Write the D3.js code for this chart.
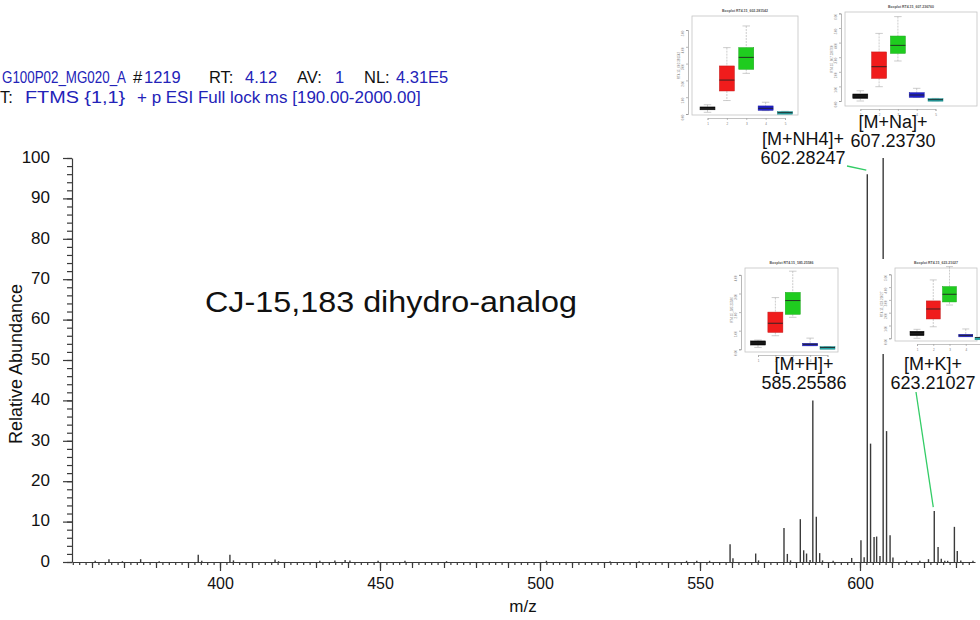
<!DOCTYPE html>
<html>
<head>
<meta charset="utf-8">
<script src="https://cdn.jsdelivr.net/npm/d3@7"></script>
<style>
body{margin:0;background:#fff}
svg{display:block}
text{font-family:"Liberation Sans",Arial,sans-serif}
</style>
</head>
<body>
<div id="chart"></div>
<script>
//Spectrum peaks (m/z and relative abundance %)
const peakMz = [361.0,365.3,369.5,375.2,381.0,393.2,394.3,403.1,404.2,417.2,418.3,431.2,435.9,439.1,440.6,449.4,457.8,470.8,
  502.0,521.9,531.0,545.8,549.0,553.0,559.4,560.3,567.4,568.3,576.25,577.3,578.3,581.35,582.4,583.3,584.4,
  585.26,586.35,587.4,588.3,591.6,597.4,600.3,601.3,602.28,603.3,604.4,605.2,606.25,607.24,608.3,609.4,610.3,
  614.6,618.7,621.4,623.21,624.4,625.4,626.5,627.4,629.5,630.4,631.5,635.3];
const peakAbund = [0.3,0.7,0.2,0.7,0.2,1.8,0.3,1.8,0.4,0.6,0.2,0.3,0.4,0.5,0.4,0.3,0.3,0.2,
  0.3,0.2,0.2,0.3,0.3,0.3,4.4,0.9,2.1,0.4,8.4,2.0,0.4,10.6,2.9,2.1,0.5,
  40,11.2,2.2,0.4,0.3,1.0,5.4,1.2,96,29.3,6.2,6.3,1.5,100,32.4,6.6,1.1,
  0.3,0.3,0.7,12.6,3.7,0.8,0.3,0.3,8.7,2.7,0.4,0.3];

//Axis ticks
const xLabelTicks = [400,450,500,550,600];
const yLabelTicks = [0,10,20,30,40,50,60,70,80,90,100];

//Annotated ions
const ionNames = ["[M+H]+","[M+NH4]+","[M+Na]+","[M+K]+"];
const ionMz = [585.25586,602.28247,607.23730,623.21027];
const ionAbund = [40,96,100,12.6];

//Inset boxplots: [low whisker, q1, median, q3, high whisker] per group 1..5
const boxH = [[0.1,0.23,0.34,0.45,0.5],[0.73,0.91,1.4,2.0,2.78],[1.72,1.88,2.62,3.06,4.2],[0.2,0.2,0.27,0.32,0.6],[0.05,0.05,0.1,0.14,0.14]];
const boxNH4 = [[0.1,0.25,0.33,0.42,0.55],[0.8,1.37,2.02,2.86,3.95],[2.42,2.66,3.37,3.95,5.24],[0.2,0.22,0.34,0.48,0.7],[0.02,0.04,0.08,0.14,0.16]];
const boxNa = [[0,0.18,0.34,0.48,0.7],[0.98,1.55,2.35,3.36,4.63],[2.74,3.26,3.81,4.45,5.78],[0.25,0.25,0.41,0.57,0.87],[0.02,0.04,0.09,0.16,0.18]];
const boxK = [[0,0.21,0.36,0.55,0.7],[0.9,1.51,2.29,2.92,4.56],[2.6,2.84,3.44,4.04,5.6],[0.16,0.16,0.23,0.31,0.73],[0.02,0.04,0.06,0.08,0.1]];
const insetTitles = ["Boxplot RT4.15_585.25586","Boxplot RT4.15_602.281542","Boxplot RT4.15_607.236760","Boxplot RT4.15_623.21027"];

const width = 980, height = 620;
const ink = "#3a3a3a";
const blue = "#2323b8";

const svg = d3.select("#chart").append("svg")
  .attr("width", width)
  .attr("height", height);

//Scales
const x = d3.scaleLinear().domain([353.75, 635.94]).range([72, 975]);
const y = d3.scaleLinear().domain([0, 100]).range([562, 158]);

//x axis: labels every 50, mid ticks every 10, small ticks every 2
svg.append("g")
  .attr("transform", "translate(0," + y(0) + ")")
  .call(d3.axisBottom(x).tickValues(d3.range(354, 636, 2)).tickSize(3).tickSizeOuter(0).tickFormat(""))
  .call(g => g.select(".domain").remove());
svg.append("g")
  .attr("transform", "translate(0," + y(0) + ")")
  .call(d3.axisBottom(x).tickValues(d3.range(360, 636, 10)).tickSize(6).tickFormat(""))
  .call(g => g.select(".domain").remove());
const xAxis = svg.append("g")
  .attr("transform", "translate(0," + y(0) + ")")
  .call(d3.axisBottom(x).tickValues(xLabelTicks).tickSize(9).tickSizeOuter(0).tickFormat(d3.format("d")));
xAxis.selectAll("text").attr("font-size", 16).attr("fill", "#111").attr("dy", "0.95em");

//y axis
svg.append("g")
  .attr("transform", "translate(" + x.range()[0] + ",0)")
  .call(d3.axisLeft(y).tickValues(d3.range(0, 101, 2)).tickSize(5).tickFormat(""))
  .call(g => g.select(".domain").remove());
const yAxis = svg.append("g")
  .attr("transform", "translate(" + x.range()[0] + ",0)")
  .call(d3.axisLeft(y).tickValues(yLabelTicks).tickSize(9).tickSizeOuter(0).tickPadding(13));
yAxis.selectAll("text").attr("font-size", 17).attr("fill", "#111").attr("dy", "0.25em");

svg.selectAll(".domain, .tick line").attr("stroke", ink).attr("stroke-width", 1.2);

//Axis titles
svg.append("text")
  .attr("transform", "translate(22,364) rotate(-90)")
  .attr("text-anchor", "middle")
  .attr("font-size", 18)
  .attr("fill", "#111")
  .text("Relative Abundance");

svg.append("text")
  .attr("x", 523).attr("y", 612)
  .attr("text-anchor", "middle")
  .attr("font-size", 17)
  .attr("fill", "#111")
  .text("m/z");

//Peaks
svg.selectAll("line.peak")
  .data(peakMz.map((m, i) => ({mz: m, v: peakAbund[i]})))
  .enter()
  .append("line")
  .attr("class", "peak")
  .attr("x1", d => x(d.mz)).attr("x2", d => x(d.mz))
  .attr("y1", y(0)).attr("y2", d => y(d.v))
  .attr("stroke", ink)
  .attr("stroke-width", 1.4);

//Header (scan info); sx squeezes a part horizontally
const header = [
  {t: "G100P02_MG020_A", x: 2, y: 83, sx: 0.81, c: blue},
  {t: "#", x: 133, y: 83, c: "#111"},
  {t: "1219", x: 144, y: 83, c: blue},
  {t: "RT:", x: 209, y: 83, c: "#111"},
  {t: "4.12", x: 245, y: 83, c: blue},
  {t: "AV:", x: 297, y: 83, c: "#111"},
  {t: "1", x: 335, y: 83, c: blue},
  {t: "NL:", x: 364, y: 83, c: "#111"},
  {t: "4.31E5", x: 396, y: 83, c: blue},
  {t: "T:", x: 0, y: 103, c: "#111"},
  {t: "FTMS {1,1}", x: 25, y: 103, sx: 1.2, c: blue},
  {t: "+ p ESI Full lock ms [190.00-2000.00]", x: 137, y: 103, sx: 1.03, c: blue}
];
svg.selectAll("text.header")
  .data(header)
  .enter()
  .append("text")
  .attr("class", "header")
  .attr("transform", d => "translate(" + d.x + "," + d.y + ") scale(" + (d.sx || 1) + ",1)")
  .attr("font-size", 16.5)
  .attr("fill", d => d.c)
  .text(d => d.t);

//Compound name
svg.append("text")
  .attr("x", 205).attr("y", 312)
  .attr("font-family", "'Open Sans', sans-serif")
  .attr("font-size", 29)
  .attr("fill", "#111")
  .attr("textLength", 372)
  .attr("lengthAdjust", "spacingAndGlyphs")
  .text("CJ-15,183 dihydro-analog");

//Inset boxplots
const boxColors = ["#0d0d0d", "#f01c1c", "#1fcc1f", "#2020cc", "#22a8a8"];
const insets = [
  {stats: boxH,   title: insetTitles[0], fx: [745, 838], fy: [268, 352], bx: [758, 827.5], by: [349.3, 274.9], top: 4, bw: 15},
  {stats: boxNH4, title: insetTitles[1], fx: [692, 798], fy: [16, 115],  bx: [707.5, 785], by: [114, 30],     top: 5, bw: 15},
  {stats: boxNa,  title: insetTitles[2], fx: [845, 977], fy: [12, 106],  bx: [860.3, 935.5], by: [101, 13.4], top: 6, bw: 15},
  {stats: boxK,   title: insetTitles[3], fx: [895, 977], fy: [268, 341], bx: [917, 982], by: [338.3, 274.3],   top: 5, bw: 14}
];

insets.forEach(ins => {
  const g = svg.append("g");
  const bx = d3.scaleLinear().domain([1, 5]).range(ins.bx);
  const by = d3.scaleLinear().domain([0, ins.top]).range(ins.by);
  const fw = ins.fx[1] - ins.fx[0], fh = ins.fy[1] - ins.fy[0];

  g.append("rect")
    .attr("x", ins.fx[0] - 14).attr("y", ins.fy[0] - 9)
    .attr("width", fw + 14).attr("height", fh + 22)
    .attr("fill", "#fff");
  g.append("rect")
    .attr("x", ins.fx[0]).attr("y", ins.fy[0])
    .attr("width", fw).attr("height", fh)
    .attr("fill", "none").attr("stroke", "#c4c4c4").attr("stroke-width", 0.8);

  g.append("text")
    .attr("x", ins.fx[0] + fw / 2).attr("y", ins.fy[0] - 4)
    .attr("text-anchor", "middle").attr("font-size", 3.5).attr("font-weight", "bold")
    .attr("fill", "#555").text(ins.title);

  //small axes
  const ax = ins.fx[0] - 4;
  g.append("g")
    .attr("transform", "translate(" + ax + ",0)")
    .call(d3.axisLeft(by).ticks(ins.top).tickSize(2).tickFormat(d => d.toFixed(2)))
    .call(a => a.selectAll("path, line").attr("stroke", "#888").attr("stroke-width", 0.6))
    .call(a => a.selectAll("text").attr("font-size", 3).attr("fill", "#777")
      .attr("transform", function() { return "rotate(-90," + this.getAttribute("x") + ",0)"; }));
  g.append("text")
    .attr("transform", "translate(" + (ax - 8) + "," + (ins.fy[0] + fh / 2) + ") rotate(-90)")
    .attr("text-anchor", "middle").attr("font-size", 3).attr("fill", "#777")
    .text("RT4.15_" + ins.title.split("_")[1]);
  const groups = d3.range(1, 6).filter(v => bx(v) < width - 4);
  g.append("g")
    .attr("transform", "translate(0," + (ins.fy[1] + 3) + ")")
    .call(d3.axisBottom(bx).tickValues(groups).tickSize(2).tickFormat(d3.format("d")))
    .call(a => a.selectAll("path, line").attr("stroke", "#999").attr("stroke-width", 0.6))
    .call(a => a.selectAll("text").attr("font-size", 3).attr("fill", "#777"));

  ins.stats.forEach((s, i) => {
    const cx = bx(i + 1), h = ins.bw / 2;
    g.append("line")
      .attr("x1", cx).attr("x2", cx).attr("y1", by(s[4])).attr("y2", by(s[3]))
      .attr("stroke", "#aaa").attr("stroke-width", 0.6).attr("stroke-dasharray", "2,1");
    g.append("line")
      .attr("x1", cx).attr("x2", cx).attr("y1", by(s[1])).attr("y2", by(s[0]))
      .attr("stroke", "#aaa").attr("stroke-width", 0.6).attr("stroke-dasharray", "2,1");
    [s[0], s[4]].forEach(v => g.append("line")
      .attr("x1", cx - h / 2).attr("x2", cx + h / 2).attr("y1", by(v)).attr("y2", by(v))
      .attr("stroke", "#aaa").attr("stroke-width", 0.6));
    g.append("rect")
      .attr("x", cx - h).attr("width", ins.bw)
      .attr("y", by(s[3])).attr("height", Math.max(2.5, by(s[1]) - by(s[3])))
      .attr("fill", boxColors[i])
      .attr("stroke", d3.color(boxColors[i]).darker(0.6)).attr("stroke-width", 0.5);
    g.append("line")
      .attr("x1", cx - h).attr("x2", cx + h).attr("y1", by(s[2])).attr("y2", by(s[2]))
      .attr("stroke", "#222").attr("stroke-width", 0.9);
  });
});

//Ion labels
const ionLabelPos = [{cx: 804, y: 370}, {cx: 803, y: 145}, {cx: 893, y: 128}, {cx: 933, y: 370}];
ionNames.forEach((name, i) => {
  const t = svg.append("text")
    .attr("text-anchor", "middle")
    .attr("font-size", 18)
    .attr("fill", "#111");
  t.append("tspan").attr("x", ionLabelPos[i].cx).attr("y", ionLabelPos[i].y).text(name);
  t.append("tspan").attr("x", ionLabelPos[i].cx).attr("y", ionLabelPos[i].y + 18.5).text(ionMz[i].toFixed(5));
});

//Green leader lines
const leaders = [{ion: 1, x0: 847, y0: 166}, {ion: 3, x0: 916, y0: 392}];
leaders.forEach(l => {
  svg.append("line")
    .attr("x1", l.x0).attr("y1", l.y0)
    .attr("x2", x(ionMz[l.ion]) - 1).attr("y2", y(ionAbund[l.ion]) - 4)
    .attr("stroke", "#33cc66").attr("stroke-width", 1.3);
});
</script>
</body>
</html>
